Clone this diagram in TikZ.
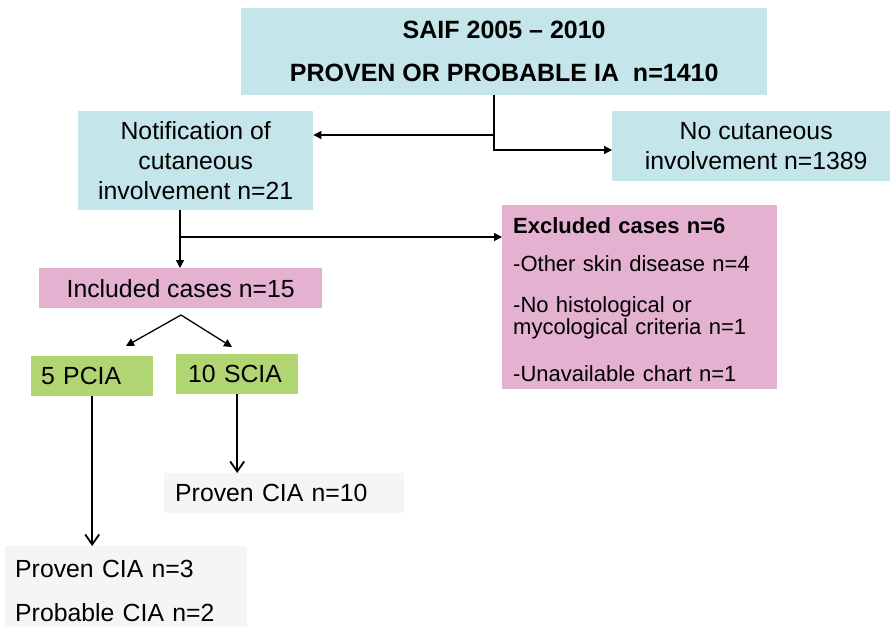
\documentclass[tikz,border=0pt]{standalone}
\usepackage{fontspec}
\setmainfont{Liberation Sans}
\usetikzlibrary{arrows.meta}
\definecolor{cblue}{RGB}{196,229,234}
\definecolor{cpink}{RGB}{228,177,209}
\definecolor{cgreen}{RGB}{177,213,115}
\definecolor{cgrey}{RGB}{244,246,245}
\begin{document}
\begin{tikzpicture}[x=1pt,y=-1pt,
  box/.style={inner sep=0pt, anchor=north west, font=\fontsize{24.8}{30}\selectfont},
  lbox/.style={box, align=left},
  filarrow/.style={-{Triangle[length=8pt,width=8pt]}, line width=1.3pt},
  openarrow/.style={-{Straight Barb[length=10pt,width=14pt,line width=1.8pt]}, line width=1.5pt}]
\useasboundingbox (0,0) rectangle (890,626);
\fill[white] (0,0) rectangle (890,626);

\node[box, fill=cblue, minimum width=526pt, minimum height=87pt, align=center,
      font=\bfseries\fontsize{25}{43}\selectfont] (top) at (241,8)
      {SAIF 2005 – 2010\\PROVEN OR PROBABLE IA\ \ n=1410};
\node[box, fill=cblue, minimum width=235pt, minimum height=99pt, align=center] (notif) at (78,111)
      {Notification of\\cutaneous\\involvement n=21};
\node[box, fill=cblue, minimum width=288pt, minimum height=70pt, align=center] (nocut) at (612,111)
      {No cutaneous\\involvement n=1389};
\node[box, fill=cpink, minimum width=283pt, minimum height=40pt] (incl) at (39,268)
      {Included cases n=15};
\node[lbox, fill=cpink, minimum width=275pt, minimum height=184pt, inner xsep=11pt, text width=253pt,
      font=\fontsize{22}{22}\selectfont] (excl) at (502,205)
      {\rule{0pt}{21pt}{\bfseries Excluded cases n=6}\\[16pt]
       -Other skin disease n=4\\[19pt]
       -No histological or\\
       mycological criteria n=1\\[25pt]
       -Unavailable chart n=1};
\node[lbox, fill=cgreen, minimum width=122pt, minimum height=40pt, inner xsep=10pt, text width=102pt] (pcia) at (31,356)
      {5 PCIA};
\node[lbox, fill=cgreen, minimum width=122pt, minimum height=40pt, inner xsep=12pt, text width=98pt] (scia) at (176,354)
      {10 SCIA};
\node[lbox, fill=cgrey, minimum width=240pt, minimum height=40pt, inner xsep=11pt, text width=218pt] (p10) at (164,473)
      {Proven CIA n=10};
\node[lbox, fill=cgrey, minimum width=242pt, minimum height=89pt, inner xsep=10pt, text width=222pt,
      font=\fontsize{24.8}{44}\selectfont] (bot) at (5,546)
      {Proven CIA n=3\\Probable CIA n=2};

\coordinate (j1) at (494,135);
\coordinate (j2) at (494,150);
\coordinate (j3) at (180,237);
\coordinate (j4) at (181,315);
\coordinate (d1) at (126,346);
\coordinate (d2) at (232,347);

\draw[filarrow] (j1 |- top.south) -- (j2) -- (j2 -| nocut.west);
\draw[filarrow] (j1) -- (j1 -| notif.east);
\draw[filarrow] (j3 |- notif.south) -- (j3 |- incl.north);
\draw[filarrow] (j3) -- (j3 -| excl.west);
\draw[filarrow] (j4) -- (d1);
\draw[filarrow] (j4) -- (d2);
\draw[openarrow] (pcia.south) -- (pcia.south |- bot.north);
\draw[openarrow] (scia.south) -- (scia.south |- p10.north);
\end{tikzpicture}
\end{document}
